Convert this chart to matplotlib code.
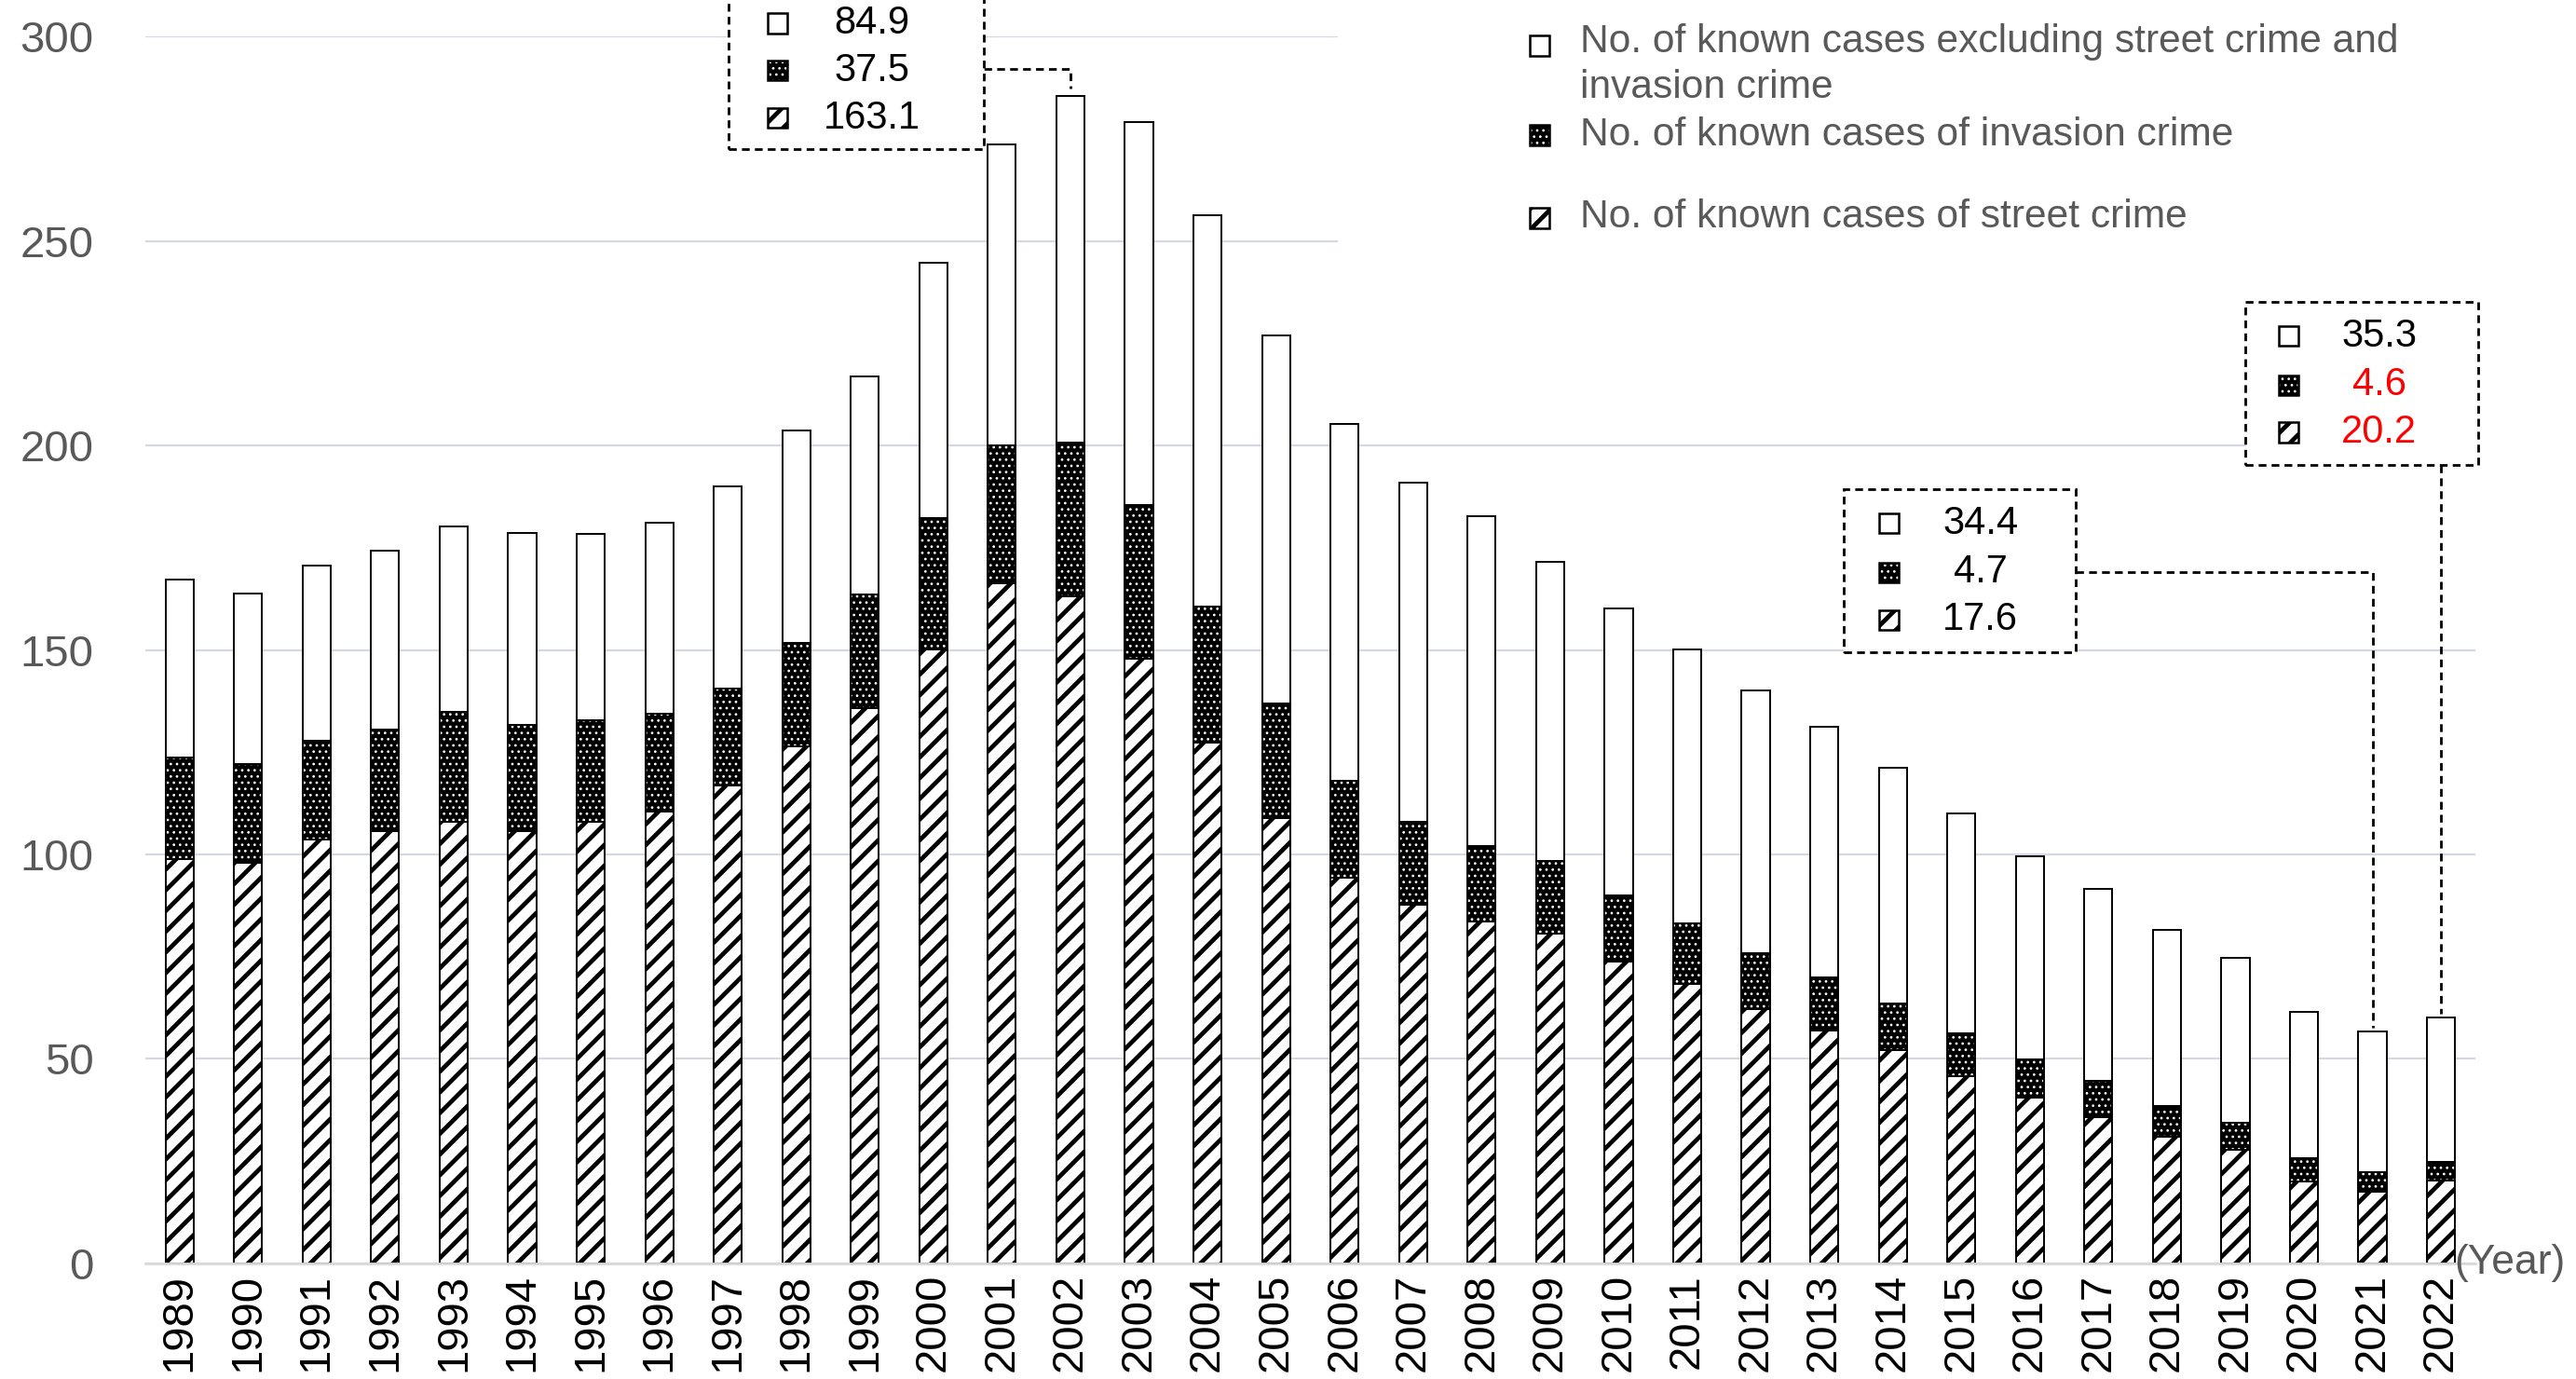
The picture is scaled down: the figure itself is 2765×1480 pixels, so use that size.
import matplotlib.pyplot as plt
from matplotlib.patches import Rectangle
import numpy as np

plt.rcParams['font.family'] = ['Liberation Sans', 'DejaVu Sans']

# valores em 10 mil casos
years = [str(y) for y in range(1989, 2023)]
street = [98.8, 98.0, 103.6, 105.6, 108.0, 105.6, 108.0, 110.4, 116.9, 126.5,
          135.7, 150.2, 166.3, 163.1, 147.8, 127.3, 108.8, 94.4, 87.6, 83.5,
          80.7, 73.9, 68.3, 62.2, 57.0, 52.2, 45.8, 40.6, 35.7, 30.9,
          27.7, 20.1, 17.6, 20.2]
invasion = [24.9, 24.1, 24.1, 24.9, 26.9, 26.1, 24.9, 24.1, 23.7, 25.3,
            27.8, 32.1, 33.7, 37.5, 37.7, 33.3, 28.1, 23.7, 20.4, 18.5,
            17.7, 16.1, 14.8, 13.7, 12.9, 11.3, 10.4, 9.2, 8.9, 7.7,
            6.8, 5.6, 4.7, 4.6]
other = [43.4, 41.8, 43.0, 43.8, 45.4, 47.0, 45.4, 46.6, 49.4, 51.8,
         53.4, 62.3, 73.5, 84.9, 93.6, 95.6, 90.0, 87.1, 82.8, 80.7,
         73.1, 70.2, 67.1, 64.3, 61.4, 57.8, 53.8, 49.8, 47.0, 42.9,
         40.2, 35.7, 34.4, 35.3]

legend_labels = ["No. of known cases excluding street crime and\ninvasion crime",
                 "No. of known cases of invasion crime",
                 "No. of known cases of street crime"]

GRAY = '#595959'
STRIPE_LW = 1.7
DOT_LW = 0.5

street = np.array(street)
invasion = np.array(invasion)
other = np.array(other)
total = street + invasion + other
x = np.arange(len(years))
w = 0.41


def hatch_lw(patches, lw):
    for p in patches:
        if hasattr(p, 'set_hatch_linewidth'):
            p.set_hatch_linewidth(lw)


fig = plt.figure(figsize=(13.825, 7.4), dpi=200)
ax = fig.add_axes([0.0564, 0.0838, 0.9045, 0.8898])

plt.rcParams['hatch.linewidth'] = STRIPE_LW
b1 = ax.bar(x, street, w, color='white', edgecolor='black', hatch='///',
            linewidth=0.7, zorder=2)
hatch_lw(b1, STRIPE_LW)
plt.rcParams['hatch.linewidth'] = DOT_LW
b2 = ax.bar(x, invasion, w, bottom=street, color='black', edgecolor='white',
            hatch='.....', linewidth=0, zorder=2)
hatch_lw(b2, DOT_LW)
ax.bar(x, invasion, w, bottom=street, fill=False, edgecolor='black',
       linewidth=0.7, zorder=3)
ax.bar(x, other, w, bottom=street + invasion, color='white', edgecolor='black',
       linewidth=0.7, zorder=2)

ax.set_xlim(-0.5, 33.5)
ax.set_ylim(0, 300)
ax.set_yticks(range(0, 301, 50))
ax.set_xticks(x, years)
for s in ['top', 'right', 'left']:
    ax.spines[s].set_visible(False)
ax.spines['bottom'].set_color('#D9D9D9')
ax.spines['bottom'].set_linewidth(1.0)
ax.yaxis.grid(True, color='#D3D8E3', linewidth=0.8)
ax.set_axisbelow(True)
ax.tick_params(axis='y', length=0, pad=20, labelsize=17, labelcolor=GRAY)
ax.tick_params(axis='x', length=0, pad=4, labelsize=17, rotation=90)
ax.text(33.19, 0, '(Year)', ha='left', va='center', fontsize=16,
        color=GRAY, clip_on=False)


def marker(kind, cx, cy, mw=0.286, mh=4.8, z=7):
    x0, y0 = cx - mw / 2, cy - mh / 2
    if kind == 'other':
        ax.add_patch(Rectangle((x0, y0), mw, mh, facecolor='white',
                               edgecolor='black', linewidth=0.9, zorder=z,
                               clip_on=False))
    elif kind == 'inv':
        p = Rectangle((x0, y0), mw, mh, facecolor='black', edgecolor='white',
                      hatch='.....', linewidth=0, zorder=z, clip_on=False)
        hatch_lw([p], DOT_LW)
        ax.add_patch(p)
        ax.add_patch(Rectangle((x0, y0), mw, mh, fill=False, edgecolor='black',
                               linewidth=0.9, zorder=z + 0.1, clip_on=False))
    else:
        p = Rectangle((x0, y0), mw, mh, facecolor='white', edgecolor='black',
                      hatch='///', linewidth=0.9, zorder=z, clip_on=False)
        hatch_lw([p], STRIPE_LW)
        ax.add_patch(p)


DASH = (0, (3, 2))


def value_box(i, x0, x1, y0, y1, rows, mx, nx, colors):
    ax.add_patch(Rectangle((x0, y0), x1 - x0, y1 - y0, facecolor='white',
                           edgecolor='black', linewidth=1.0, linestyle=DASH,
                           zorder=6, clip_on=False))
    vals = [other[i], invasion[i], street[i]]
    for kind, ry, v, c in zip(['other', 'inv', 'street'], rows, vals, colors):
        marker(kind, mx, ry)
        ax.text(nx, ry, f'{v:.1f}', ha='center', va='center', fontsize=15,
                color=c, zorder=8, clip_on=False)


# caixa de 2002
i02 = years.index('2002')
value_box(i02, 8.01, 11.73, 272.4, 318, [303.2, 291.6, 280.0], 8.73, 10.1,
          ['black'] * 3)
ax.plot([11.73, i02, i02], [292.0, 292.0, total[i02] + 1.7], color='black',
        linestyle=DASH, linewidth=1.0, zorder=5, clip_on=False)

# caixa de 2021
i21 = years.index('2021')
value_box(i21, 24.28, 27.67, 149.4, 189.3, [180.9, 169.0, 157.4], 24.94, 26.28,
          ['black'] * 3)
ax.plot([27.67, i21, i21], [169.0, 169.0, total[i21] + 1.0], color='black',
        linestyle=DASH, linewidth=1.0, zorder=5, clip_on=False)

# caixa de 2022
i22 = years.index('2022')
value_box(i22, 30.14, 33.54, 195.2, 235.1, [226.7, 214.8, 203.2], 30.77, 32.1,
          ['black', 'red', 'red'])
ax.plot([i22, i22], [195.2, total[i22] + 1.0], color='black',
        linestyle=DASH, linewidth=1.0, zorder=5, clip_on=False)

# legenda feita à mão
ax.add_patch(Rectangle((16.9, 248), 16.7, 72, facecolor='white',
                       edgecolor='none', zorder=1, clip_on=False))
for kind, my in zip(['other', 'inv', 'street'], [297.7, 275.9, 255.6]):
    marker(kind, 19.85, my, mh=5.0)
for lab, ty in zip(legend_labels, [293.1, 275.9, 255.8]):
    ax.text(20.44, ty, lab, ha='left', va='center', fontsize=15.3, color=GRAY,
            linespacing=1.3, clip_on=False)

fig.savefig('out.png', dpi=200)
